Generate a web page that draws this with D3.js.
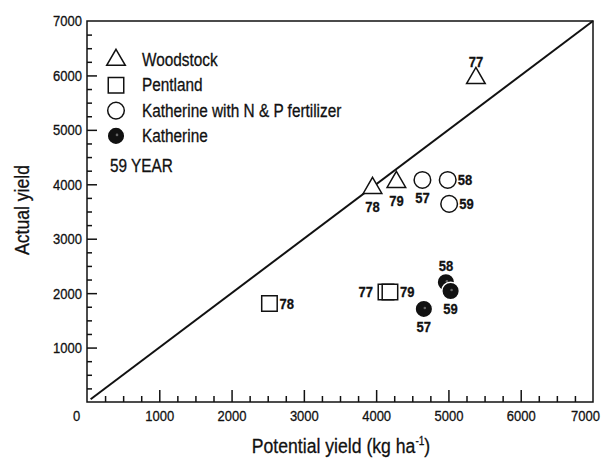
<!DOCTYPE html>
<html><head><meta charset="utf-8">
<script src="https://cdn.jsdelivr.net/npm/d3@7"></script>
<style>
body{margin:0;background:#fff}
text{font-family:"Liberation Sans",Arial,sans-serif;fill:#111;stroke:#111;stroke-width:0.3px}
</style>
</head><body>
<svg id="c" width="610" height="458"></svg>
<script>
// ---- data ----
const xTickValues = [0, 1000, 2000, 3000, 4000, 5000, 6000, 7000];
const yTickValues = [1000, 2000, 3000, 4000, 5000, 6000, 7000];
const lineX = [50, 7000];
const lineY = [50, 7000];

const seriesNames = ["Woodstock", "Pentland", "Katherine with N & P fertilizer", "Katherine"];
const seriesShapes = ["triangle", "square", "circle", "filled"];

const woodstockX = [5380, 3950, 4280];
const woodstockY = [5950, 3930, 4040];
const woodstockYear = ["77", "78", "79"];
const woodstockSide = ["above", "below", "below"];

const pentlandX = [4136, 2524, 4191];
const pentlandY = [2020, 1810, 2020];
const pentlandYear = ["77", "78", "79"];
const pentlandSide = ["left", "right", "right"];

const npX = [4640, 4990, 5010];
const npY = [4080, 4080, 3640];
const npYear = ["57", "58", "59"];
const npSide = ["below", "right", "right"];

const katherineX = [4660, 4965, 5030];
const katherineY = [1710, 2200, 2040];
const katherineYear = ["57", "58", "59"];
const katherineSide = ["below", "above", "below"];

const legendNote = "59 YEAR";
const xTitle = "Potential yield (kg ha";
const xTitleSup = "-1";
const yTitle = "Actual yield";

// ---- layout ----
const SX = 0.84; // horizontal condensing of the narrow typeface
const svg = d3.select("#c");
const L = 87, R = 593, T = 21, B = 402;
const x = d3.scaleLinear().domain([0, 7000]).range([L, R]);
const y = d3.scaleLinear().domain([0, 7000]).range([B, T]);

function ntext(parent, tx, ty, size, anchor, str, rot) {
  const g = parent.append("g")
    .attr("transform", `translate(${tx},${ty})` + (rot ? ` rotate(${rot})` : "") + ` scale(${SX},1)`);
  const t = g.append("text").attr("font-size", size).attr("text-anchor", anchor || "start");
  if (str !== undefined) t.text(str);
  return t;
}

// frame
svg.append("rect").attr("x", L).attr("y", T).attr("width", R - L).attr("height", B - T)
  .attr("fill", "none").attr("stroke", "#111").attr("stroke-width", 1.5);

// ticks (minor every 250, major every 1000), pointing inward
const minor = d3.range(250, 7000, 250).filter(v => v % 1000 !== 0);
const gx = svg.append("g").attr("transform", `translate(0,${B})`);
gx.call(d3.axisBottom(x).tickValues(minor).tickSizeInner(-6).tickSizeOuter(0).tickFormat(""));
gx.append("g").call(d3.axisBottom(x).tickValues(xTickValues.filter(v => v > 0 && v < 7000)).tickSizeInner(-12).tickSizeOuter(0).tickFormat(""));
gx.selectAll(".domain").remove();
gx.selectAll("line").attr("stroke", "#111").attr("stroke-width", 1.5);

const gy = svg.append("g").attr("transform", `translate(${L},0)`);
gy.call(d3.axisLeft(y).tickValues(minor).tickSizeInner(-5).tickSizeOuter(0).tickFormat(""));
gy.append("g").call(d3.axisLeft(y).tickValues(yTickValues.filter(v => v < 7000)).tickSizeInner(-10).tickSizeOuter(0).tickFormat(""));
gy.selectAll(".domain").remove();
gy.selectAll("line").attr("stroke", "#111").attr("stroke-width", 1.5);

// tick labels
const xl = svg.append("g").attr("transform", `translate(0,${B})`)
  .call(d3.axisBottom(x).tickValues(xTickValues).tickSize(0).tickPadding(8).tickFormat(d3.format("d")));
xl.select(".domain").remove();
xl.selectAll("text").attr("font-size", 15.5).attr("font-family", null).attr("fill", "#111")
  .attr("x", d => (d === 0 ? -11 : d === 7000 ? -8 : 0) / SX)
  .attr("transform", `scale(${SX},1)`);

const yl = svg.append("g").attr("transform", `translate(${L},0)`)
  .call(d3.axisLeft(y).tickValues(yTickValues).tickSize(0).tickPadding(5).tickFormat(d3.format("d")));
yl.select(".domain").remove();
yl.selectAll("text").attr("font-size", 15.5).attr("font-family", null).attr("fill", "#111")
  .attr("x", -5 / SX).attr("transform", `scale(${SX},1)`);

// axis titles
const xt = ntext(svg, 341, 453, 21, "middle");
xt.append("tspan").text(xTitle);
xt.append("tspan").attr("font-size", 12).attr("dy", -8).text(xTitleSup);
xt.append("tspan").attr("dy", 8).text(")");

ntext(svg, 29, 210, 21, "middle", yTitle, -90);

// diagonal 1:1 line
svg.append("line")
  .attr("x1", x(lineX[0])).attr("y1", y(lineY[0]))
  .attr("x2", x(lineX[1])).attr("y2", y(lineY[1]))
  .attr("stroke", "#111").attr("stroke-width", 2);

// symbols
function drawSymbol(g, shape, cx, cy) {
  if (shape === "triangle") {
    g.append("path").attr("d", d3.symbol(d3.symbolTriangle, 150)())
      .attr("transform", `translate(${cx},${cy})`)
      .attr("fill", "#fff").attr("stroke", "#111").attr("stroke-width", 1.5);
  } else if (shape === "square") {
    g.append("path").attr("d", d3.symbol(d3.symbolSquare, 240)())
      .attr("transform", `translate(${cx},${cy})`)
      .attr("fill", "#fff").attr("stroke", "#111").attr("stroke-width", 1.5);
  } else if (shape === "circle") {
    g.append("circle").attr("cx", cx).attr("cy", cy).attr("r", 8.3)
      .attr("fill", "#fff").attr("stroke", "#111").attr("stroke-width", 1.5);
  } else {
    g.append("circle").attr("cx", cx).attr("cy", cy).attr("r", 8.8)
      .attr("fill", "#111").attr("stroke", "#fff").attr("stroke-width", 1.5);
    g.append("circle").attr("cx", cx + 1).attr("cy", cy - 1).attr("r", 1.3)
      .attr("fill", "#666");
  }
}

const series = [
  { shape: seriesShapes[0], xs: woodstockX, ys: woodstockY, yr: woodstockYear, side: woodstockSide },
  { shape: seriesShapes[1], xs: pentlandX, ys: pentlandY, yr: pentlandYear, side: pentlandSide },
  { shape: seriesShapes[2], xs: npX, ys: npY, yr: npYear, side: npSide },
  { shape: seriesShapes[3], xs: katherineX, ys: katherineY, yr: katherineYear, side: katherineSide }
];

const pts = svg.append("g");
series.forEach(sr => {
  sr.xs.forEach((v, i) => {
    const cx = x(v), cy = y(sr.ys[i]);
    drawSymbol(pts, sr.shape, cx, cy);
    const side = sr.side[i];
    let tx, ty, anchor;
    if (side === "above") { tx = cx; ty = cy - 17; anchor = "middle"; }
    else if (side === "below") { tx = cx; ty = cy + 18; anchor = "middle"; }
    else if (side === "right") { tx = cx + 10; ty = cy; anchor = "start"; }
    else { tx = cx - 13; ty = cy; anchor = "end"; }
    ntext(pts, tx, ty, 15.5, anchor, sr.yr[i])
      .attr("font-weight", "bold").attr("dominant-baseline", "central");
  });
});

// legend
const lg = svg.append("g");
seriesNames.forEach((n, i) => {
  const by = 66 + i * 25.3;
  drawSymbol(lg, seriesShapes[i], 116, by - 6);
  ntext(lg, 142, by, 18.3, "start", n);
});
ntext(lg, 110, 172, 18.3, "start", legendNote);
</script>
</body></html>
